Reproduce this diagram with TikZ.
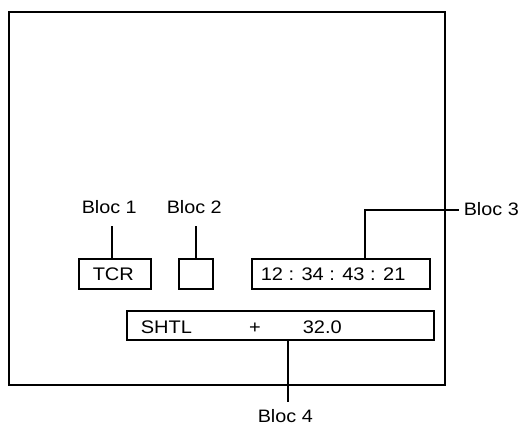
\documentclass[tikz,border=0pt]{standalone}
\usepackage{fontspec}
\setmainfont[FakeStretch=1.1]{Liberation Sans}
\begin{document}
\begin{tikzpicture}[x=1pt,y=-1pt,line width=1.5pt,
  lbl/.style={inner sep=0pt,anchor=base west,font=\fontsize{18}{18}\selectfont},
  btxt/.style={inner sep=0pt,anchor=base west,font=\fontsize{18.2}{18}\selectfont},
  dbox/.style={draw,line width=1.5pt,inner sep=0pt}]
\useasboundingbox (0,0) rectangle (524,425);
% screen frame
\draw (9,12) rectangle (445,385);
% boxes
\node[dbox,minimum width=72pt,minimum height=30pt] (tcr) at (115,274) {};
\node[dbox,minimum width=34pt,minimum height=30pt] (b2box) at (196,274) {};
\node[dbox,minimum width=178pt,minimum height=30pt] (time) at (341,274) {};
\node[dbox,minimum width=307pt,minimum height=29pt] (shtl) at (280.5,325.5) {};
% box texts
\node[btxt] (ttcr) at (92,280.5) {TCR};
\node[btxt] (ttime) at (260,280.5) {12 : 34 : 43 : 21};
\node[btxt] (tshtl) at (140,333) {SHTL};
\node[btxt,anchor=base] (tplus) at (255,333) {+};
\node[btxt] (tval) at (302,333) {32.0};
% labels
\node[lbl] (l1) at (81,213) {Bloc 1};
\node[lbl] (l2) at (166,213) {Bloc 2};
\node[lbl] (l3) at (463,215) {Bloc 3};
\node[lbl] (l4) at (257,422) {Bloc 4};
% leaders
\coordinate (c1) at (112,226);
\coordinate (c2) at (196,226);
\coordinate (c3) at (365,210);
\coordinate (c3e) at (459,210);
\coordinate (c4) at (288,402);
\draw (c1) -- (c1 |- tcr.north);
\draw (c2) -- (c2 |- b2box.north);
\draw (time.north -| c3) -- (c3) -- (c3e);
\draw (shtl.south -| c4) -- (c4);
\end{tikzpicture}
\end{document}
